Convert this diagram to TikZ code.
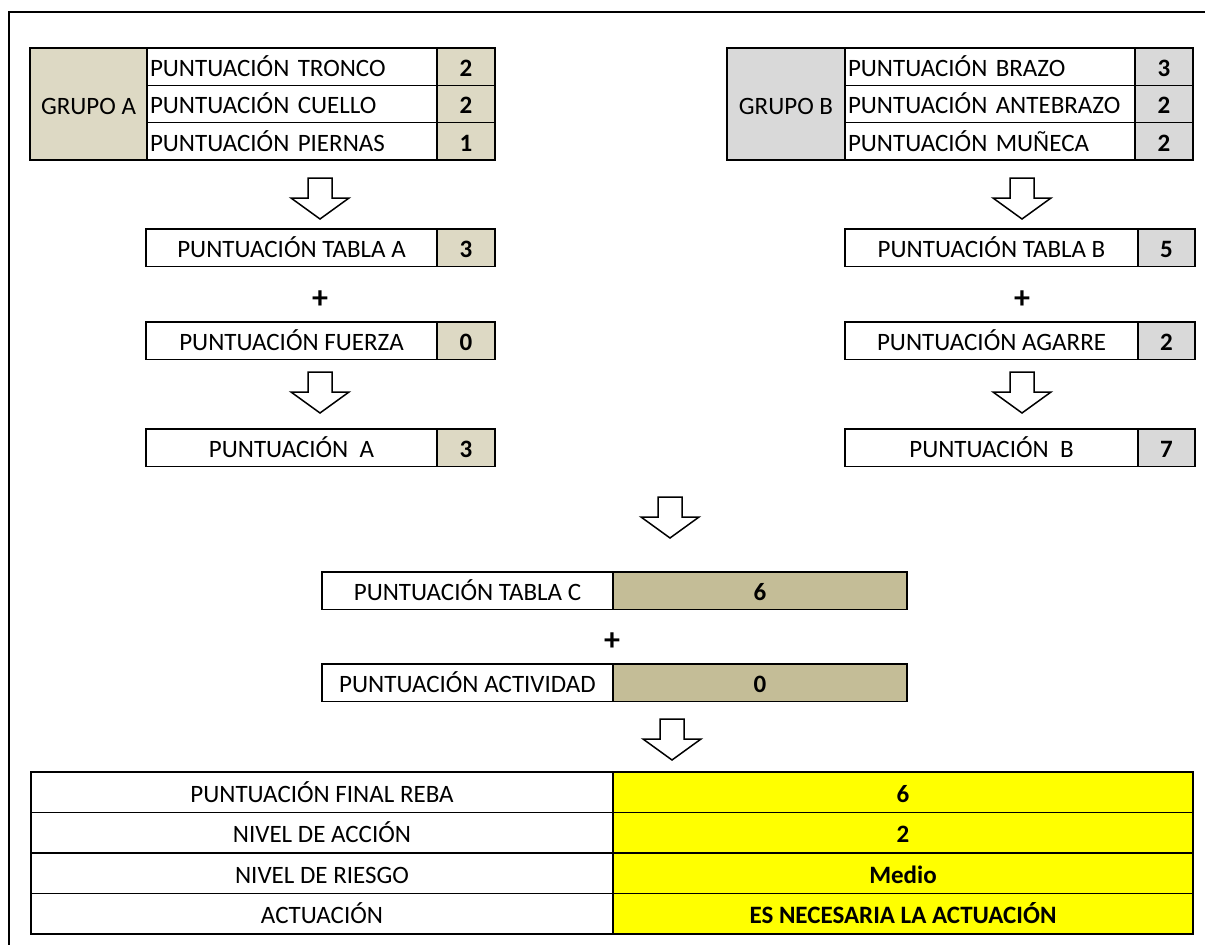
\documentclass[tikz,border=0pt]{standalone}
\usepackage{fontspec}
\setmainfont{Carlito}
\usetikzlibrary{positioning}

\definecolor{beigeA}{HTML}{DDD9C4}
\definecolor{grisB}{HTML}{D9D9D9}
\definecolor{pardoC}{HTML}{C4BD97}
\definecolor{amarillo}{HTML}{FFFF00}

\tikzset{flecha/.pic={
  \draw[fill=white,line join=miter] (-12,-20) -- (12,-20) -- (12,0) -- (29,0)
    -- (0,21) -- (-29,0) -- (-12,0) -- cycle;}}

\begin{document}
\begin{tikzpicture}[x=1pt,y=-1pt,line width=1.5pt,
                    every node/.style={font=\fontsize{25}{28}\selectfont}]
  \tikzstyle{celda}=[draw=black,outer sep=0pt,inner sep=0pt,minimum height=37.5,
                     text height=22,text depth=2]
  \tikzstyle{izq}=[celda,minimum width=290,text width=284,align=left]
  \tikzstyle{caja}=[celda,minimum width=291]
  \tikzstyle{valA}=[celda,fill=beigeA,minimum width=58,font=\fontsize{25}{28}\selectfont\bfseries]
  \tikzstyle{valB}=[valA,fill=grisB]
  \tikzstyle{mas}=[font=\fontsize{32}{34}\selectfont\bfseries]

  \useasboundingbox (0,0) rectangle (1205,945);
  \draw[line width=2pt] (9,945) -- (9,12) -- (1205,12);

  % grupo A
  \node[celda,fill=beigeA,minimum width=117,minimum height=112,anchor=north west] (GA) at (30,48) {GRUPO A};
  \node[izq,minimum height=37.33,anchor=north west] (GA1) at (147,48) {PUNTUACIÓN TRONCO};
  \node[izq,minimum height=37.33] (GA2) [below=0pt of GA1] {PUNTUACIÓN CUELLO};
  \node[izq,minimum height=37.33] (GA3) [below=0pt of GA2] {PUNTUACIÓN PIERNAS};
  \node[valA,minimum height=37.33] (vGA1) [right=0pt of GA1] {2};
  \node[valA,minimum height=37.33] (vGA2) [right=0pt of GA2] {2};
  \node[valA,minimum height=37.33] (vGA3) [right=0pt of GA3] {1};

  % grupo B
  \node[celda,fill=grisB,minimum width=118,minimum height=112,anchor=north west] (GB) at (727,48) {GRUPO B};
  \node[izq,minimum height=37.33,anchor=north west] (GB1) at (845,48) {PUNTUACIÓN BRAZO};
  \node[izq,minimum height=37.33] (GB2) [below=0pt of GB1] {PUNTUACIÓN ANTEBRAZO};
  \node[izq,minimum height=37.33] (GB3) [below=0pt of GB2] {PUNTUACIÓN MUÑECA};
  \node[valB,minimum height=37.33] (vGB1) [right=0pt of GB1] {3};
  \node[valB,minimum height=37.33] (vGB2) [right=0pt of GB2] {2};
  \node[valB,minimum height=37.33] (vGB3) [right=0pt of GB3] {2};

  % columna A
  \node[caja,anchor=north west] (TA) at (146,229) {PUNTUACIÓN TABLA A};
  \node[valA] (vTA) [right=0pt of TA] {3};
  \node[mas] (masA) at (320,300) {+};
  \node[caja,anchor=north west] (FZ) at (146,322) {PUNTUACIÓN FUERZA};
  \node[valA] (vFZ) [right=0pt of FZ] {0};
  \node[caja,anchor=north west] (PA) at (146,429) {PUNTUACIÓN~~A};
  \node[valA] (vPA) [right=0pt of PA] {3};

  % columna B
  \node[caja,minimum width=293,anchor=north west] (TB) at (845,229) {PUNTUACIÓN TABLA B};
  \node[valB,minimum width=57] (vTB) [right=0pt of TB] {5};
  \node[mas] (masB) at (1022,300) {+};
  \node[caja,minimum width=293,anchor=north west] (AG) at (845,322) {PUNTUACIÓN AGARRE};
  \node[valB,minimum width=57] (vAG) [right=0pt of AG] {2};
  \node[caja,minimum width=293,anchor=north west] (PB) at (845,429) {PUNTUACIÓN~~B};
  \node[valB,minimum width=57] (vPB) [right=0pt of PB] {7};

  % tabla C
  \node[celda,minimum width=291,anchor=north west] (TC) at (322,572) {PUNTUACIÓN TABLA C};
  \node[valA,fill=pardoC,minimum width=294] (vTC) [right=0pt of TC] {6};
  \node[mas] (masC) at (612,642) {+};
  \node[celda,minimum width=291,anchor=north west] (AC) at (322,664) {PUNTUACIÓN ACTIVIDAD};
  \node[valA,fill=pardoC,minimum width=294] (vAC) [right=0pt of AC] {0};

  % resultado final
  \node[celda,minimum width=582,minimum height=40.5,anchor=north west] (R1) at (31,772) {PUNTUACIÓN FINAL REBA};
  \node[celda,minimum width=582,minimum height=40.5] (R2) [below=0pt of R1] {NIVEL DE ACCIÓN};
  \node[celda,minimum width=582,minimum height=40.5] (R3) [below=0pt of R2] {NIVEL DE RIESGO};
  \node[celda,minimum width=582,minimum height=40.5] (R4) [below=0pt of R3] {ACTUACIÓN};
  \node[valA,fill=amarillo,minimum width=580,minimum height=40.5] (vR1) [right=0pt of R1] {6};
  \node[valA,fill=amarillo,minimum width=580,minimum height=40.5] (vR2) [right=0pt of R2] {2};
  \node[valA,fill=amarillo,minimum width=580,minimum height=40.5] (vR3) [right=0pt of R3] {Medio};
  \node[valA,fill=amarillo,minimum width=580,minimum height=40.5] (vR4) [right=0pt of R4] {ES NECESARIA LA ACTUACIÓN};

  \pic at (320,198) {flecha};
  \pic at (320,392) {flecha};
  \pic at (1022,198) {flecha};
  \pic at (1022,392) {flecha};
  \pic at (670,517) {flecha};
  \pic at (672,739) {flecha};
\end{tikzpicture}
\end{document}
